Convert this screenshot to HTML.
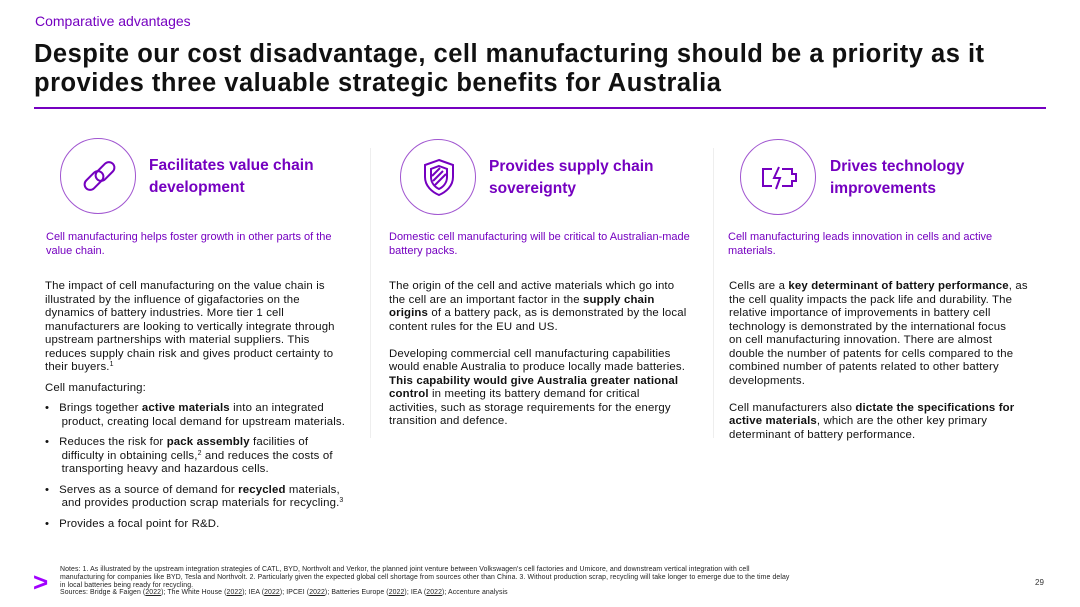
<!DOCTYPE html>
<html><head><meta charset="utf-8"><style>
*{margin:0;padding:0;box-sizing:border-box}
body{width:1080px;height:607px;background:#fff;font-family:"Liberation Sans",sans-serif;color:#111;position:relative;overflow:hidden}
.a{position:absolute;white-space:nowrap}
.kick{left:35px;top:13px;font-size:14px;color:#7500c0}
.title{left:34px;top:40px;font-size:25.5px;font-weight:bold;line-height:29px;letter-spacing:0.5px}
.rule{left:34px;top:107px;width:1012px;height:2px;background:#7500c0}
.vd{top:148px;width:1px;height:290px;background:#eee}
.h{font-size:15.5px;font-weight:bold;color:#7500c0;line-height:22px}
.sub{font-size:11px;color:#7500c0;line-height:14px}
.body{font-size:11.4px;line-height:13.5px;color:#111;letter-spacing:0.15px}
.body b{font-weight:bold}
.circ{position:absolute;width:76px;height:76px;border:1.5px solid #a055d0;border-radius:50%}
.notes{left:60px;top:566px;font-size:6.9px;line-height:7.8px;color:#222;letter-spacing:0.1px}
sup{font-size:7px;line-height:0;vertical-align:4px}
</style></head><body>
<div class="a kick">Comparative advantages</div>
<div class="a title">Despite our cost disadvantage, cell manufacturing should be a priority as it<br>provides three valuable strategic benefits for Australia</div>
<div class="a rule"></div>
<div class="a vd" style="left:370px"></div>
<div class="a vd" style="left:713px"></div>

<div class="circ" style="left:60px;top:138px">
<svg width="76" height="76" viewBox="0 0 76 76"><g fill="none" stroke="#7500c0" stroke-width="2"><rect x="22" y="36" width="22" height="11" rx="5.5" transform="rotate(-45 33 41.5)"/><rect x="33" y="27" width="22" height="11" rx="5.5" transform="rotate(-45 44 32.5)"/></g></svg></div>
<div class="a h" style="left:149px;top:155px">Facilitates value chain<br>development</div>

<div class="circ" style="left:400px;top:139px">
<svg width="76" height="76" viewBox="0 0 76 76"><g fill="none" stroke="#7500c0" stroke-width="2"><path d="M38 20 L52 25 V37 C52 46 45 52 38 55 C31 52 24 46 24 37 V25 Z"/><path d="M38 26 L46 29 V37 C46 43 42 47 38 49 C34 47 30 43 30 37 V29 Z"/><path d="M32 41 L42 31 M34 45 L45 34 M31 36 L39 28"/></g></svg></div>
<div class="a h" style="left:489px;top:156px">Provides supply chain<br>sovereignty</div>

<div class="circ" style="left:740px;top:139px">
<svg width="76" height="76" viewBox="0 0 76 76"><g fill="none" stroke="#7500c0" stroke-width="2"><path d="M31 29 H22 V46 H31 M41 29 H51 V34 H55 V41 H51 V46 H41"/><path d="M38 27 L33 38 H39 L35 49"/></g></svg></div>
<div class="a h" style="left:830px;top:156px">Drives technology<br>improvements</div>

<div class="a sub" style="left:46px;top:230px">Cell manufacturing helps foster growth in other parts of the<br>value chain.</div>
<div class="a sub" style="left:389px;top:230px">Domestic cell manufacturing will be critical to Australian-made<br>battery packs.</div>
<div class="a sub" style="left:728px;top:230px">Cell manufacturing leads innovation in cells and active<br>materials.</div>

<div class="a body" style="left:45px;top:280px">The impact of cell manufacturing on the value chain is<br>illustrated by the influence of gigafactories on the<br>dynamics of battery industries. More tier 1 cell<br>manufacturers are looking to vertically integrate through<br>upstream partnerships with material suppliers. This<br>reduces supply chain risk and gives product certainty to<br>their buyers.<sup>1</sup></div>
<div class="a body" style="left:45px;top:382px">Cell manufacturing:</div>
<div class="a body" style="left:45px;top:402px">
•&nbsp;&nbsp;&nbsp;Brings together <b>active materials</b> into an integrated<br>&nbsp;&nbsp;&nbsp;&nbsp;&nbsp;product, creating local demand for upstream materials.<br>
<div style="height:7px"></div>•&nbsp;&nbsp;&nbsp;Reduces the risk for <b>pack assembly</b> facilities of<br>&nbsp;&nbsp;&nbsp;&nbsp;&nbsp;difficulty in obtaining cells,<sup>2</sup> and reduces the costs of<br>&nbsp;&nbsp;&nbsp;&nbsp;&nbsp;transporting heavy and hazardous cells.<br>
<div style="height:7px"></div>•&nbsp;&nbsp;&nbsp;Serves as a source of demand for <b>recycled</b> materials,<br>&nbsp;&nbsp;&nbsp;&nbsp;&nbsp;and provides production scrap materials for recycling.<sup>3</sup><br>
<div style="height:7px"></div>•&nbsp;&nbsp;&nbsp;Provides a focal point for R&amp;D.</div>

<div class="a body" style="left:389px;top:280px">The origin of the cell and active materials which go into<br>the cell are an important factor in the <b>supply chain<br>origins</b> of a battery pack, as is demonstrated by the local<br>content rules for the EU and US.<br><br>Developing commercial cell manufacturing capabilities<br>would enable Australia to produce locally made batteries.<br><b>This capability would give Australia greater national<br>control</b> in meeting its battery demand for critical<br>activities, such as storage requirements for the energy<br>transition and defence.</div>

<div class="a body" style="left:729px;top:280px">Cells are a <b>key determinant of battery performance</b>, as<br>the cell quality impacts the pack life and durability. The<br>relative importance of improvements in battery cell<br>technology is demonstrated by the international focus<br>on cell manufacturing innovation. There are almost<br>double the number of patents for cells compared to the<br>combined number of patents related to other battery<br>developments.<br><br>Cell manufacturers also <b>dictate the specifications for<br>active materials</b>, which are the other key primary<br>determinant of battery performance.</div>

<div class="a" style="left:33px;top:572px;font-size:26px;font-weight:bold;color:#a100ff;line-height:20px">&gt;</div>
<div class="a notes">Notes: 1. As illustrated by the upstream integration strategies of CATL, BYD, Northvolt and Verkor, the planned joint venture between Volkswagen's cell factories and Umicore, and downstream vertical integration with cell<br>manufacturing for companies like BYD, Tesla and Northvolt. 2. Particularly given the expected global cell shortage from sources other than China. 3. Without production scrap, recycling will take longer to emerge due to the time delay<br>in local batteries being ready for recycling.<br>Sources: Bridge &amp; Faigen (<u>2022</u>); The White House (<u>2022</u>); IEA (<u>2022</u>); IPCEI (<u>2022</u>); Batteries Europe (<u>2022</u>); IEA (<u>2022</u>); Accenture analysis</div>
<div class="a" style="left:1035px;top:578px;font-size:8px;color:#333">29</div>
</body></html>
